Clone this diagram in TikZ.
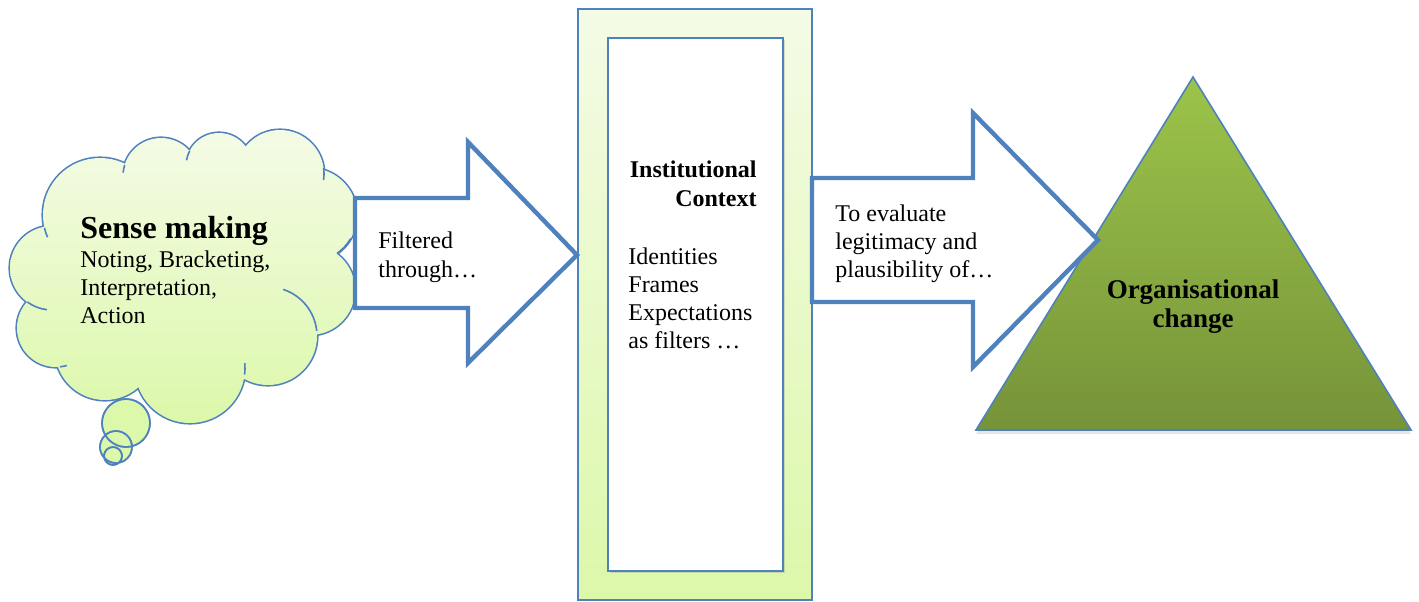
\documentclass[tikz,border=0pt]{standalone}
\usepackage{fontspec}
\setmainfont{Liberation Serif}
\usetikzlibrary{shadows}

\definecolor{ofblue}{RGB}{79,129,189}
\definecolor{paletop}{RGB}{244,251,230}
\definecolor{palebottom}{RGB}{220,248,170}
\definecolor{leaftop}{RGB}{156,196,74}
\definecolor{leafbottom}{RGB}{118,147,57}

% puffs of the thought cloud: x/y/radius
\newcommand\cloudpuffs{100/215/57,161/176/38,219/166/33,280/174/44,310/215/47,310/290/45,
  268/336/49,190/368/55,105/350/50,56/328/39,52/268/42}

\begin{document}
\begin{tikzpicture}[x=0.5pt,y=-0.5pt,
    every node/.style={inner sep=0pt,align=left,font=\fontsize{12}{14}\selectfont},
    frame/.style={draw=ofblue,line width=0.8pt},
    paleshade/.style={top color=paletop,bottom color=palebottom},
    blockarrow/.style={draw=ofblue,line width=2.2pt,fill=white,miter limit=20},
    bubble/.style={frame,fill=palebottom}]

\useasboundingbox (0,0) rectangle (1419,601);

% cloud: outline of the puffs, then the shaded inside on top
\draw[ofblue,line width=1.6pt] foreach \x/\y/\r in \cloudpuffs {(\x,\y) circle[radius=\r]};
\path[paleshade] foreach \x/\y/\r in \cloudpuffs {(\x,\y) circle[radius=\r]}
    (180,270) ellipse[x radius=130,y radius=95];
% small folds where the puffs meet
\foreach \x/\y/\r/\a/\b in {100/215/57/167/157, 161/176/38/197/185, 219/166/33/207/190,
    280/174/44/352/368, 310/215/47/30/55, 268/336/49/354/288, 190/368/55/7/-5,
    52/268/42/126/97, 56/328/39/84/74}
  \draw[frame] (\x,\y) ++(\a:\r) arc[start angle=\a,end angle=\b,radius=\r];
\path[bubble] (126,423) circle[radius=24] (116,447) circle[radius=16] (113,456) circle[radius=9];
\draw[frame] (126,423) circle[radius=24] (116,447) circle[radius=16] (113,456) circle[radius=9];

\node[anchor=base west,font=\fontsize{16}{19}\selectfont\bfseries] (sense) at (80,238) {Sense making};
\node[anchor=base west,font=\fontsize{12}{13.8}\selectfont] (steps) at (80,323)
    {Noting, Bracketing,\\Interpretation,\\Action};

% institutional context
\node[frame,paleshade,minimum width=117pt,minimum height=295.5pt] (ctxframe) at (695,304.5) {};
\node[frame,fill=white,minimum width=87.5pt,minimum height=266.5pt,
    drop shadow={shadow xshift=1pt,shadow yshift=-1pt,opacity=0.25}] (ctxbox) at (695.5,304.5) {};
\node[anchor=base east,align=right,font=\fontsize{12}{14.5}\selectfont\bfseries] (ctxtitle) at (757,206)
    {Institutional\\Context};
\node[anchor=base west] (filters) at (628,348) {Identities\\Frames\\Expectations\\as filters \dots};

% organisational change
\coordinate (apex) at (1193,77);
\coordinate (baseL) at (976,430);
\coordinate (baseR) at (1411,430);
\path[frame,top color=leaftop,bottom color=leafbottom,
    drop shadow={shadow xshift=0pt,shadow yshift=-2pt,opacity=0.2}]
    (apex) -- (baseR) -- (baseL) -- cycle;
\node[anchor=base,align=center,font=\fontsize{13.5}{14.5}\selectfont\bfseries] (change) at (1193,327)
    {Organisational\\change};

% block arrows
\draw[blockarrow] (355,198) -- (468,198) -- (468,142) -- (577,255) -- (468,363) -- (468,308) -- (355,308) -- cycle;
\node[anchor=base west,font=\fontsize{12}{14.5}\selectfont] (filtered) at (378,277) {Filtered\\through\dots};
\draw[blockarrow] (812,178) -- (973,178) -- (973,113) -- (1098,240) -- (973,367) -- (973,302) -- (812,302) -- cycle;
\node[anchor=base west] (evaluate) at (835,277) {To evaluate\\legitimacy and\\plausibility of\dots};

\end{tikzpicture}
\end{document}
